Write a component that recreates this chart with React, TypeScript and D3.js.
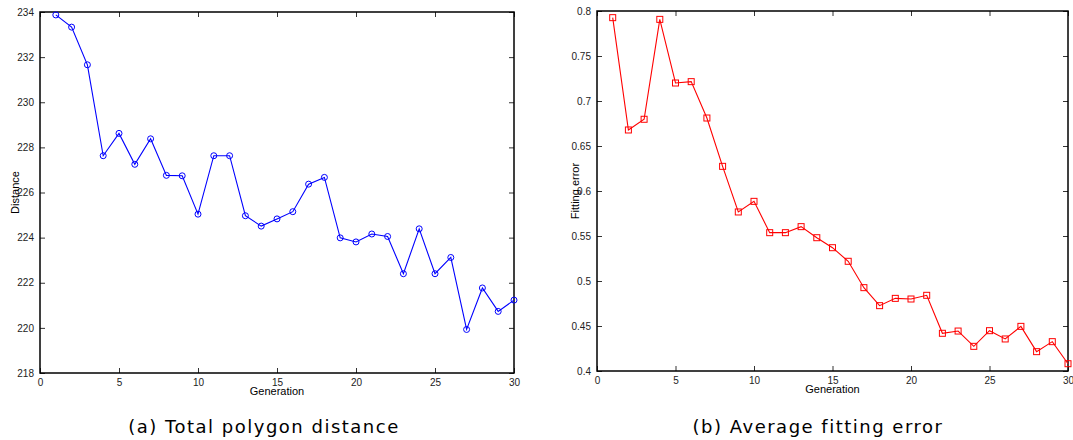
import React, { useRef, useEffect } from "react";
import * as d3 from "d3";

// Generation numbers shared by both panels
const generations = d3.range(1, 31);

const totalDistance = [
  233.87, 233.33, 231.66, 227.63, 228.62, 227.25, 228.38, 226.76, 226.74, 225.04,
  227.63, 227.63, 224.97, 224.51, 224.83, 225.15, 226.37, 226.67, 223.99, 223.81,
  224.16, 224.05, 222.4, 224.39, 222.4, 223.12, 219.93, 221.77, 220.73, 221.23,
];

const fittingError = [
  0.7926, 0.6678, 0.6797, 0.7907, 0.72, 0.7215, 0.6811, 0.6274, 0.5767, 0.5885,
  0.5537, 0.5537, 0.5604, 0.5481, 0.537, 0.5219, 0.4926, 0.4726, 0.4807, 0.48,
  0.4841, 0.4419, 0.4444, 0.4274, 0.4448, 0.4356, 0.4496, 0.4215, 0.4326, 0.4081,
];

const xTicks = [0, 5, 10, 15, 20, 25, 30];
const distanceTicks = [218, 220, 222, 224, 226, 228, 230, 232, 234];
const errorTicks = [0.4, 0.45, 0.5, 0.55, 0.6, 0.65, 0.7, 0.75, 0.8];

const App = () => {
  const svgRef = useRef<SVGSVGElement>(null);

  useEffect(() => {
    const svg = d3.select(svgRef.current);
    svg.selectAll("*").remove();

    const panels = [
      {
        box: { left: 40, top: 12, right: 514, bottom: 373 },
        values: totalDistance,
        yDomain: [218, 234],
        yTicks: distanceTicks,
        yFormat: (d: number) => String(d),
        yLabel: "Distance",
        yLabelX: 15,
        color: "#0000ff",
        marker: "circle",
        caption: "(a) Total polygon distance",
        captionX: 264,
      },
      {
        box: { left: 597, top: 11, right: 1068, bottom: 371 },
        values: fittingError,
        yDomain: [0.4, 0.8],
        yTicks: errorTicks,
        yFormat: (d: number) => String(+d.toFixed(2)),
        yLabel: "Fitting error",
        yLabelX: 575,
        color: "#ff0000",
        marker: "square",
        caption: "(b) Average fitting error",
        captionX: 818,
      },
    ];

    panels.forEach((p) => {
      const { box } = p;
      const x = d3.scaleLinear().domain([0, 30]).range([box.left, box.right]);
      const y = d3.scaleLinear().domain(p.yDomain).range([box.bottom, box.top]);
      const g = svg.append("g");

      // Inward ticks on all four sides
      g.append("g")
        .attr("transform", `translate(0,${box.bottom})`)
        .call(d3.axisBottom(x).tickValues(xTicks).tickSizeInner(-5).tickSizeOuter(0).tickPadding(6))
        .call((a) => a.select(".domain").remove());
      g.append("g")
        .attr("transform", `translate(0,${box.top})`)
        .call(d3.axisTop(x).tickValues(xTicks).tickSizeInner(-5).tickSizeOuter(0).tickFormat(() => ""))
        .call((a) => a.select(".domain").remove());
      g.append("g")
        .attr("transform", `translate(${box.left},0)`)
        .call(d3.axisLeft(y).tickValues(p.yTicks).tickSizeInner(-5).tickSizeOuter(0).tickPadding(6).tickFormat(p.yFormat as any))
        .call((a) => a.select(".domain").remove());
      g.append("g")
        .attr("transform", `translate(${box.right},0)`)
        .call(d3.axisRight(y).tickValues(p.yTicks).tickSizeInner(-5).tickSizeOuter(0).tickFormat(() => ""))
        .call((a) => a.select(".domain").remove());

      g.selectAll(".tick line").attr("stroke", "#333").attr("stroke-width", 1);
      g.selectAll(".tick text")
        .attr("fill", "#222")
        .style("font-family", "Liberation Sans, Arial, sans-serif")
        .style("font-size", "10px");

      g.append("rect")
        .attr("x", box.left)
        .attr("y", box.top)
        .attr("width", box.right - box.left)
        .attr("height", box.bottom - box.top)
        .attr("fill", "none")
        .attr("stroke", "#000")
        .attr("stroke-width", 1.5);

      const line = d3
        .line<number>()
        .x((_, i) => x(generations[i]))
        .y((d) => y(d));

      g.append("path")
        .datum(p.values)
        .attr("d", line)
        .attr("fill", "none")
        .attr("stroke", p.color)
        .attr("stroke-width", 1.1);

      if (p.marker === "circle") {
        g.selectAll(".pt")
          .data(p.values)
          .enter()
          .append("circle")
          .attr("cx", (_, i) => x(generations[i]))
          .attr("cy", (d) => y(d))
          .attr("r", 3)
          .attr("fill", "none")
          .attr("stroke", p.color)
          .attr("stroke-width", 1);
      } else {
        g.selectAll(".pt")
          .data(p.values)
          .enter()
          .append("rect")
          .attr("x", (_, i) => x(generations[i]) - 3)
          .attr("y", (d) => y(d) - 3)
          .attr("width", 6)
          .attr("height", 6)
          .attr("fill", "none")
          .attr("stroke", p.color)
          .attr("stroke-width", 1);
      }

      // Axis titles
      g.append("text")
        .attr("x", (box.left + box.right) / 2)
        .attr("y", box.bottom + 22)
        .attr("text-anchor", "middle")
        .style("font-family", "Liberation Sans, Arial, sans-serif")
        .style("font-size", "11px")
        .text("Generation");

      g.append("text")
        .attr("transform", `translate(${p.yLabelX},${(box.top + box.bottom) / 2}) rotate(-90)`)
        .attr("text-anchor", "middle")
        .attr("dy", "0.35em")
        .style("font-family", "Liberation Sans, Arial, sans-serif")
        .style("font-size", "11px")
        .text(p.yLabel);

      // Caption
      svg
        .append("text")
        .attr("x", p.captionX)
        .attr("y", 433)
        .attr("text-anchor", "middle")
        .style("font-family", "'DejaVu Sans', sans-serif")
        .style("font-size", "18px")
        .style("letter-spacing", "1.5px")
        .text(p.caption);
    });
  }, []);

  return (
    <svg
      ref={svgRef}
      width={1073}
      height={440}
      style={{ position: "absolute", left: 0, top: 0, background: "#fff" }}
    />
  );
};

export default App;
